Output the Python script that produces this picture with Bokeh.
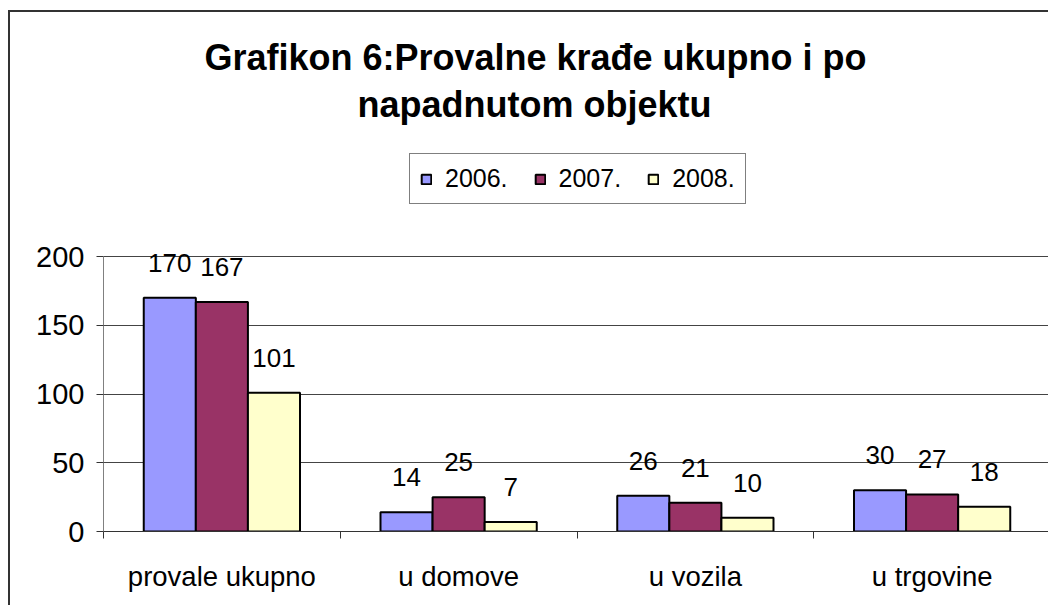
import numpy as np
from bokeh.plotting import figure
from bokeh.models import (Range1d, FixedTicker, Legend, LegendItem, LabelSet,
                          ColumnDataSource, Label)
from bokeh.core.properties import value
from bokeh.embed import file_html
from bokeh.resources import INLINE

categories = ["provale ukupno", "u domove", "u vozila", "u trgovine"]
years = ["2006.", "2007.", "2008."]
v2006 = [170, 14, 26, 30]
v2007 = [167, 25, 21, 27]
v2008 = [101, 7, 10, 18]
colors = ["#9999FF", "#993366", "#FFFFCC"]
title_lines = ["Grafikon 6:Provalne krađe ukupno i  po", "napadnutom objektu"]

FONT = "Liberation Sans"

# ---- layout (page pixels) ----
PAGE_X0, PAGE_Y0 = 10, 12          # canvas origin (after CSS margin+border)
W, H = 1040, 595
FRAME_L, FRAME_R = 103, 1050       # plot area left / right on page
AXIS_Y0, AXIS_Y200 = 531, 256      # page y of value 0 and of value 200
frame_bottom = AXIS_Y0 - PAGE_Y0   # frame spans from canvas top to the x axis
px_per_unit = (AXIS_Y0 - AXIS_Y200) / 200.0
y_top = frame_bottom / px_per_unit
px_per_cat = (FRAME_R - FRAME_L) / len(categories)


def page_to_data(px, py):
    return (px - FRAME_L) / px_per_cat, (AXIS_Y0 - py) / px_per_unit


p = figure(width=W, height=H, output_backend="svg", toolbar_location=None,
           x_range=Range1d(0, len(categories)), y_range=Range1d(0, y_top),
           min_border_left=FRAME_L - PAGE_X0, min_border_right=0,
           min_border_top=0, min_border_bottom=H - frame_bottom)
p.title = None
p.outline_line_color = None
p.background_fill_color = "white"
p.border_fill_color = "white"
# outer chart border (only top and left edges are visible in the reference)
p.styles = {"margin-left": "8px", "margin-top": "10px",
            "border-top": "2px solid #333333",
            "border-left": "2px solid #333333"}

centers = np.arange(len(categories)) + 0.5
bw = 0.22
offsets = [-bw, 0.0, bw]
series = [v2006, v2007, v2008]

items = []
for yr, vals, col, off in zip(years, series, colors, offsets):
    src = ColumnDataSource(dict(x=centers + off, top=vals,
                                lbl=[str(v) for v in vals]))
    r = p.vbar(x="x", top="top", width=bw, source=src, fill_color=col,
               line_color="black", line_width=2)
    items.append(LegendItem(label=yr, renderers=[r]))
    ls = LabelSet(x="x", y="top", text="lbl", source=src, text_align="center",
                  text_baseline="alphabetic", y_offset=26,
                  text_font=value(FONT), text_font_size="26px",
                  text_color="black")
    p.add_layout(ls)

# axes
xa = p.xaxis[0]
xa.ticker = FixedTicker(ticks=list(centers),
                        minor_ticks=list(range(len(categories) + 1)))
xa.major_label_overrides = {float(c): name for c, name in zip(centers, categories)}
xa.major_tick_line_color = None
xa.minor_tick_line_color = "#333333"
xa.minor_tick_out = 7
xa.minor_tick_in = 0
xa.axis_line_color = "#333333"
xa.major_label_text_font = FONT
xa.major_label_text_font_size = "27.5px"
xa.major_label_text_color = "black"
xa.major_label_standoff = 22

ya = p.yaxis[0]
ya.ticker = FixedTicker(ticks=[0, 50, 100, 150, 200])
ya.bounds = (0, 200)
ya.major_tick_out = 7
ya.major_tick_in = 0
ya.minor_tick_line_color = None
ya.axis_line_color = "#808080"
ya.major_tick_line_color = "#333333"
ya.major_label_text_font = FONT
ya.major_label_text_font_size = "29px"
ya.major_label_text_color = "black"
ya.major_label_standoff = 12

p.xgrid.grid_line_color = None
p.ygrid.grid_line_color = "#444444"
p.ygrid.ticker = FixedTicker(ticks=[50, 100, 150, 200])

# legend: location in pixels from the frame's bottom-left corner
legend = Legend(items=items, orientation="horizontal",
                location=(409 - FRAME_L, AXIS_Y0 - 204),
                border_line_color="black", border_line_width=1,
                label_text_font=FONT, label_text_font_size="25px",
                label_text_color="black",
                glyph_width=12, glyph_height=12, label_standoff=13,
                spacing=26, padding=10, margin=0, background_fill_alpha=1)
p.add_layout(legend, "center")

# two-line title
for line, (tx, ty) in zip(title_lines, [(540, 57), (534, 104)]):
    dx, dy = page_to_data(tx, ty)
    p.add_layout(Label(x=dx, y=dy, text=line, text_align="center",
                       text_baseline="alphabetic", text_font=FONT,
                       text_font_size="36px", text_font_style="bold",
                       text_color="black"))

open("out.html", "w").write(file_html(p, INLINE))
